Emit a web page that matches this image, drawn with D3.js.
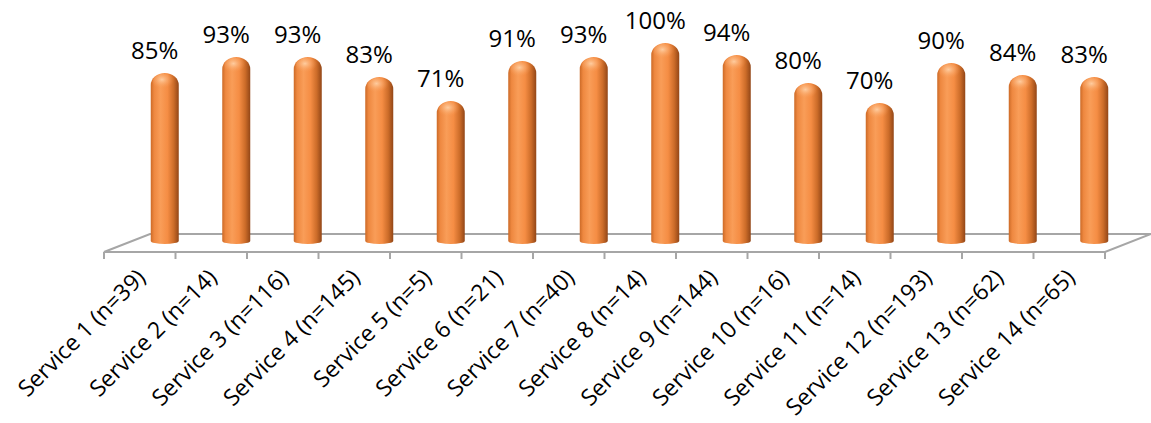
<!DOCTYPE html>
<html>
<head>
<meta charset="utf-8">
<script src="https://cdn.jsdelivr.net/npm/d3@7"></script>
<style>
  body { margin: 0; background: #fff; }
  text { font-family: "Open Sans", "Noto Sans", sans-serif; fill: #000; }
</style>
</head>
<body>
<svg id="chart" width="1151" height="423"></svg>
<script>
// Chart data
var services = ['Service 1', 'Service 2', 'Service 3', 'Service 4', 'Service 5', 'Service 6', 'Service 7',
                'Service 8', 'Service 9', 'Service 10', 'Service 11', 'Service 12', 'Service 13', 'Service 14'];
var counts = [39, 14, 116, 145, 5, 21, 40, 14, 144, 16, 14, 193, 62, 65];
var values = [85, 93, 93, 83, 71, 91, 93, 100, 94, 80, 70, 90, 84, 83];

var categories = services.map(function (s, i) { return s + ' (n=' + counts[i] + ')'; });

var svg = d3.select('#chart');

// floor geometry (front edge + depth offset of the 3d floor)
var frontY = 252;
var depthX = 46, depthY = -18;
var barW = 28;

var x = d3.scaleBand().domain(categories).range([104, 1105]).paddingInner(0).paddingOuter(0);
var y = d3.scaleLinear().domain([0, 100]).range([243, 43]);

// Gradients
var defs = svg.append('defs');
var body = defs.append('linearGradient').attr('id', 'barBody').attr('x1', 0).attr('x2', 1).attr('y1', 0).attr('y2', 0);
[[0, '#cc6a27'], [0.12, '#ee8840'], [0.35, '#f99d58'], [0.6, '#f58d44'], [0.82, '#cc6c29'], [1, '#924617']]
  .forEach(function (s) { body.append('stop').attr('offset', s[0]).attr('stop-color', s[1]); });

var shine = defs.append('radialGradient').attr('id', 'capShine')
  .attr('cx', 0.42).attr('cy', 0.35).attr('r', 0.55);
shine.append('stop').attr('offset', 0).attr('stop-color', '#ffd2a8').attr('stop-opacity', 0.9);
shine.append('stop').attr('offset', 1).attr('stop-color', '#f99d58').attr('stop-opacity', 0);

// Floor
var x0 = x.range()[0], x1 = x.range()[1];
var floor = [[x0, frontY], [x1, frontY], [x1 + depthX, frontY + depthY], [x0 + depthX, frontY + depthY]];
svg.append('path')
  .attr('d', d3.line()(floor) + 'Z')
  .attr('fill', 'none')
  .attr('stroke', '#a6a6a6')
  .attr('stroke-width', 2);

// Ticks along the front edge
var tickXs = categories.map(function (c) { return x(c); }).concat([x1]);
svg.selectAll('.tick').data(tickXs).enter().append('line')
  .attr('x1', function (d) { return d; }).attr('x2', function (d) { return d; })
  .attr('y1', frontY).attr('y2', frontY + 7)
  .attr('stroke', '#a6a6a6').attr('stroke-width', 2);

// Bars as rounded cylinders
function barPath(cx, top, bottom) {
  var rx = barW / 2, ry = 12, by = 3;
  var l = cx - rx, r = cx + rx;
  return 'M' + l + ',' + (bottom - by) +
    'L' + l + ',' + (top + ry) +
    'A' + rx + ',' + ry + ' 0 0 1 ' + r + ',' + (top + ry) +
    'L' + r + ',' + (bottom - by) +
    'A' + rx + ',' + by + ' 0 0 1 ' + l + ',' + (bottom - by) + 'Z';
}

function barCx(c) { return x(c) + x.bandwidth() / 2 + depthX / 2 + 2; }

var bars = svg.selectAll('.bar').data(categories).enter().append('g').attr('class', 'bar');
bars.append('path')
  .attr('d', function (c, i) { return barPath(barCx(c), y(values[i]), y(0) + 1); })
  .attr('fill', 'url(#barBody)');
bars.append('ellipse')
  .attr('cx', function (c) { return barCx(c) - 1; })
  .attr('cy', function (c, i) { return y(values[i]) + 9; })
  .attr('rx', 11).attr('ry', 8)
  .attr('fill', 'url(#capShine)');

// Value labels
svg.selectAll('.val').data(categories).enter().append('text')
  .attr('x', function (c) { return x(c) + x.bandwidth() / 2 + 15; })
  .attr('y', function (c, i) { return y(values[i]) - 14; })
  .attr('text-anchor', 'middle')
  .style('font-size', '24px')
  .text(function (c, i) { return values[i] + '%'; });

// Category labels, rotated
svg.selectAll('.cat').data(categories).enter().append('text')
  .attr('transform', function (c) {
    return 'translate(' + (x(c) + x.bandwidth() / 2 + 7) + ',279) rotate(-45)';
  })
  .attr('text-anchor', 'end')
  .style('font-size', '23px')
  .text(function (c) { return c; });
</script>
</body>
</html>
